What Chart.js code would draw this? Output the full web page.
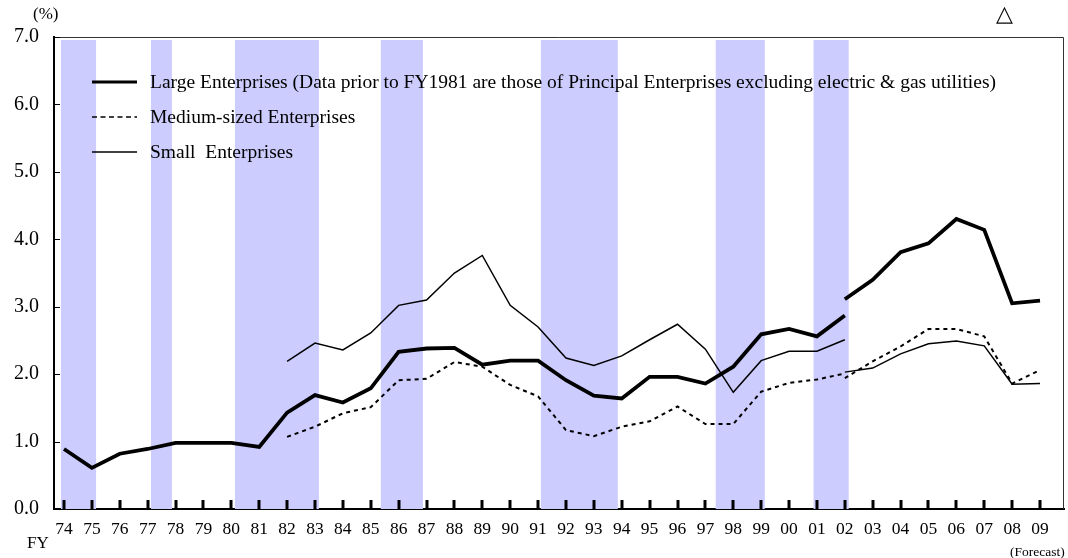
<!DOCTYPE html>
<html lang="en">
<head>
  <meta charset="UTF-8" />
  <title>Ordinary Profit Ratio by Enterprise Size</title>
  <script src="https://cdn.jsdelivr.net/npm/chart.js@4"></script>
  <style>
    body { margin: 0; background: #fff; }
    canvas { display: block; }
  </style>
</head>
<body>
  <canvas id="chart" width="1068" height="558"></canvas>
  <script>
    // fiscal year labels, 74 .. 09
    const fiscalYears = ['74','75','76','77','78','79','80','81','82','83','84','85','86','87','88','89','90',
      '91','92','93','94','95','96','97','98','99','00','01','02','03','04','05','06','07','08','09'];

    // old basis runs to FY02, new basis from FY02 on
    const largeOld = [0.89,0.61,0.82,0.89,0.98,0.98,0.98,0.92,1.43,1.69,1.58,1.79,2.33,2.38,2.39,2.14,2.20,
      2.20,1.91,1.68,1.64,1.96,1.96,1.86,2.11,2.59,2.67,2.56,2.87,null,null,null,null,null,null,null];
    const largeNew = [null,null,null,null,null,null,null,null,null,null,null,null,null,null,null,null,null,
      null,null,null,null,null,null,null,null,null,null,null,3.11,3.40,3.81,3.94,4.30,4.14,3.05,3.09];
    const mediumOld = [null,null,null,null,null,null,null,null,1.07,1.22,1.42,1.51,1.91,1.93,2.18,2.11,1.84,
      1.67,1.17,1.08,1.22,1.30,1.52,1.26,1.26,1.74,1.87,1.92,2.01,null,null,null,null,null,null,null];
    const mediumNew = [null,null,null,null,null,null,null,null,null,null,null,null,null,null,null,null,null,
      null,null,null,null,null,null,null,null,null,null,null,1.94,2.19,2.41,2.67,2.67,2.56,1.86,2.06];
    const smallOld = [null,null,null,null,null,null,null,null,2.19,2.46,2.36,2.61,3.02,3.10,3.50,3.76,3.02,
      2.70,2.24,2.13,2.27,2.51,2.74,2.37,1.73,2.20,2.34,2.34,2.51,null,null,null,null,null,null,null];
    const smallNew = [null,null,null,null,null,null,null,null,null,null,null,null,null,null,null,null,null,
      null,null,null,null,null,null,null,null,null,null,null,2.03,2.09,2.30,2.45,2.49,2.42,1.85,1.86];

    // recession periods (shaded), in fiscal years
    const recessionFrom = [1973.89, 1977.12, 1980.13, 1985.36, 1991.10, 1997.37, 2000.88];
    const recessionTo   = [1975.15, 1977.87, 1983.14, 1986.87, 1993.86, 1999.13, 2002.14];

    const legendLabels = [
      'Large Enterprises (Data prior to FY1981 are those of Principal Enterprises excluding electric & gas utilities)',
      'Medium-sized Enterprises',
      'Small  Enterprises'
    ];

    const FONT = '"Liberation Serif", "Times New Roman", serif';
    const firstYear = 1974;

    function points(arr) {
      return arr.map((v, i) => ({ x: firstYear + i, y: v }));
    }

    const styles = {
      large: { borderWidth: 3.8, borderDash: [] },
      medium: { borderWidth: 2, borderDash: [4, 4] },
      small: { borderWidth: 1.5, borderDash: [] }
    };
    const legendStyles = [
      { width: 3, dash: [] },
      { width: 1.5, dash: [5, 3.5] },
      { width: 1.5, dash: [] }
    ];

    function line(data, st) {
      return {
        data: points(data),
        borderColor: '#000',
        borderWidth: st.borderWidth,
        borderDash: st.borderDash,
        pointRadius: 0,
        fill: false,
        spanGaps: false,
        tension: 0
      };
    }

    const bandsPlugin = {
      id: 'bands',
      beforeDatasetsDraw(chart) {
        const { ctx, chartArea, scales } = chart;
        ctx.save();
        ctx.fillStyle = '#ccccff';
        recessionFrom.forEach((from, i) => {
          const x0 = scales.x.getPixelForValue(from);
          const x1 = scales.x.getPixelForValue(recessionTo[i]);
          ctx.fillRect(x0, chartArea.top + 3, x1 - x0, chartArea.bottom - chartArea.top - 3);
        });
        ctx.restore();
      }
    };

    const decorPlugin = {
      id: 'decor',
      afterDraw(chart) {
        const { ctx, chartArea, scales } = chart;
        ctx.save();
        // top and right frame
        ctx.strokeStyle = '#333';
        ctx.lineWidth = 1;
        ctx.beginPath();
        ctx.moveTo(chartArea.left, chartArea.top + 0.5);
        ctx.lineTo(chartArea.right - 0.5, chartArea.top + 0.5);
        ctx.lineTo(chartArea.right - 0.5, chartArea.bottom);
        ctx.stroke();

        // small inward ticks on the y axis
        ctx.strokeStyle = '#000';
        scales.y.ticks.forEach(t => {
          const y = Math.round(scales.y.getPixelForValue(t.value)) + 0.5;
          ctx.beginPath();
          ctx.moveTo(chartArea.left, y);
          ctx.lineTo(chartArea.left + 6, y);
          ctx.stroke();
        });

        // inward tick marks on the x axis
        ctx.lineWidth = 3;
        fiscalYears.forEach((_, i) => {
          const x = Math.round(scales.x.getPixelForValue(firstYear + i));
          ctx.beginPath();
          ctx.moveTo(x, chartArea.bottom - 9);
          ctx.lineTo(x, chartArea.bottom);
          ctx.stroke();
        });

        // legend inside plot
        ctx.fillStyle = '#000';
        ctx.font = '19.5px ' + FONT;
        ctx.textBaseline = 'middle';
        legendLabels.forEach((label, i) => {
          const y = 82 + i * 35;
          ctx.lineWidth = legendStyles[i].width;
          ctx.setLineDash(legendStyles[i].dash);
          ctx.beginPath();
          ctx.moveTo(92, y);
          ctx.lineTo(137, y);
          ctx.stroke();
          ctx.setLineDash([]);
          ctx.fillText(label, 150, y + 1);
        });

        // side notes
        ctx.font = '17px ' + FONT;
        ctx.fillText('(%)', 33, 15);
        ctx.fillText('FY', 27, 544);
        ctx.font = '22px ' + FONT;
        ctx.fillText('\u25B3', 996, 15);
        ctx.font = '13.5px ' + FONT;
        ctx.fillText('(Forecast)', 1010, 552);
        ctx.restore();
      }
    };

    new Chart(document.getElementById('chart'), {
      type: 'line',
      data: {
        datasets: [
          line(largeOld, styles.large),
          line(largeNew, styles.large),
          line(mediumOld, styles.medium),
          line(mediumNew, styles.medium),
          line(smallOld, styles.small),
          line(smallNew, styles.small)
        ]
      },
      options: {
        responsive: false,
        animation: false,
        layout: { padding: { top: 37, right: 4, left: 0, bottom: 0 } },
        plugins: {
          legend: { display: false },
          tooltip: { enabled: false }
        },
        scales: {
          x: {
            type: 'linear',
            min: 1973.641,
            max: 2009.86,
            afterBuildTicks: (scale) => {
              scale.ticks = fiscalYears.map((_, i) => ({ value: firstYear + i }));
            },
            afterFit: (scale) => { scale.height = 49; },
            grid: { display: false, drawTicks: false },
            border: { display: true, color: '#000', width: 2 },
            ticks: {
              autoSkip: false,
              maxRotation: 0,
              padding: 10,
              color: '#000',
              font: { family: FONT, size: 17.5 },
              callback: (v) => fiscalYears[Math.round(v) - firstYear]
            }
          },
          y: {
            min: 0,
            max: 7,
            afterFit: (scale) => { scale.width = 54; },
            grid: { display: false, drawTicks: false },
            border: { display: true, color: '#000', width: 2 },
            ticks: {
              stepSize: 1,
              padding: 15,
              color: '#000',
              font: { family: FONT, size: 20 },
              callback: (v) => v.toFixed(1)
            }
          }
        }
      },
      plugins: [bandsPlugin, decorPlugin]
    });
  </script>
</body>
</html>
